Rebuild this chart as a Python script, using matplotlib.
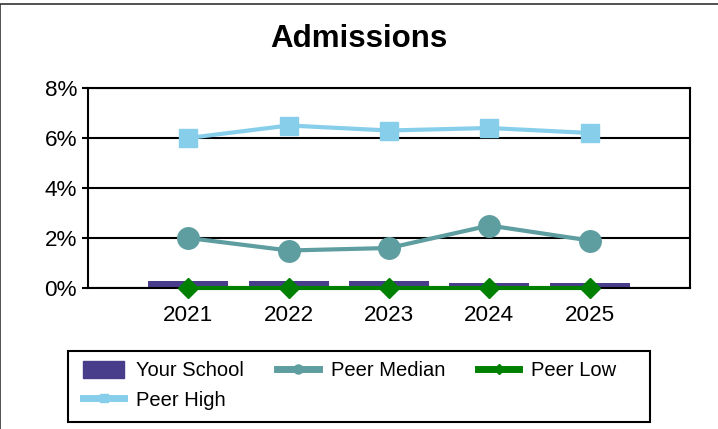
import numpy as np
import matplotlib.pyplot as plt
from matplotlib.patches import Rectangle, Patch
from matplotlib.lines import Line2D

years = ['2021', '2022', '2023', '2024', '2025']
your_school = [0.3, 0.3, 0.3, 0.2, 0.2]
peer_median = [2.0, 1.5, 1.6, 2.5, 1.9]
peer_low = [0.0, 0.0, 0.0, 0.0, 0.0]
peer_high = [6.0, 6.5, 6.3, 6.4, 6.2]

c_school = '#483D8B'
c_median = '#5F9EA0'
c_low = '#008000'
c_high = '#87CEEB'

plt.rcParams['font.family'] = ['Liberation Sans', 'DejaVu Sans']

W, H = 718, 429
fig = plt.figure(figsize=(W / 100, H / 100), dpi=100)
ax = fig.add_axes([88 / W, 1 - 288 / H, 602 / W, 200 / H])

# outer frame of the chart (only left and top edges are visible)
fig.patches.append(Rectangle((0.0005, -0.1), 1.2, 1.1 - 4.5 / H, transform=fig.transFigure,
                             fill=False, edgecolor='#333333', linewidth=1.2))

x = np.arange(len(years))

ax.bar(x, your_school, width=0.8, color=c_school, zorder=2)
ax.plot(x, peer_median, color=c_median, linewidth=3, marker='o', markersize=15.5, zorder=3)
ax.plot(x, peer_low, color=c_low, linewidth=3, marker='D', markersize=10.5, zorder=4, clip_on=False)
ax.plot(x, peer_high, color=c_high, linewidth=3, marker='s', markersize=13.5, zorder=3)

ax.set_xlim(-1, 5)
ax.set_ylim(0, 8)
ax.set_yticks([0, 2, 4, 6, 8])
ax.set_yticklabels(['%d%%' % v for v in [0, 2, 4, 6, 8]])
ax.set_xticks(x)
ax.set_xticklabels(years)
ax.tick_params(axis='x', length=0, labelsize=16.2, pad=12.5)
ax.tick_params(axis='y', length=4, width=1.5, labelsize=16.2, pad=4)
ax.yaxis.grid(True, color='black', linewidth=1.5, zorder=1)
ax.set_axisbelow(True)
for side in ['left', 'right', 'bottom', 'top']:
    ax.spines[side].set_linewidth(1.5)

fig.text(0.5, 1 - 47 / H, 'Admissions', ha='center', va='baseline',
         fontsize=22.5, fontweight='bold')

# legend: entries fill the rows left to right, so order them for column-major layout
handles = [
    Patch(facecolor=c_school, edgecolor=c_school),
    Line2D([], [], color=c_high, linewidth=5, marker='s', markersize=6),
    Line2D([], [], color=c_median, linewidth=5, marker='o', markersize=6.5),
    Line2D([], [], color=c_low, linewidth=5, marker='D', markersize=5),
]
labels = ['Your School', 'Peer High', 'Peer Median', 'Peer Low']
leg = fig.legend(handles, labels, loc='upper left', ncol=3,
                 bbox_to_anchor=(83 / W, 1 - 361 / H),
                 fontsize=14.5, frameon=False,
                 handlelength=2.05, handleheight=0.9, handletextpad=0.6,
                 columnspacing=1.64, borderaxespad=0, borderpad=0,
                 labelspacing=0.5)
fig.patches.append(Rectangle((68 / W, 1 - 421.5 / H), 582 / W, 71 / H,
                             transform=fig.transFigure, fill=False,
                             edgecolor='black', linewidth=1.5))

fig.savefig('out.png', dpi=100)
